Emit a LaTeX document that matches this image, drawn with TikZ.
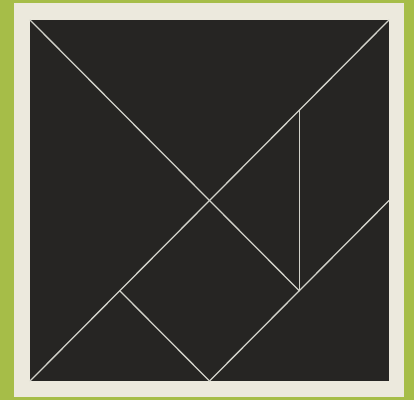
\documentclass[tikz,border=0pt]{standalone}
\usetikzlibrary{calc}
\definecolor{Moss}{RGB}{166,189,72}
\definecolor{Cream}{RGB}{236,233,221}
\definecolor{Board}{RGB}{38,37,35}
\definecolor{Cut}{RGB}{210,210,202}
\begin{document}
\begin{tikzpicture}[x=1pt, y=-1pt,
  cut/.style={draw=Cut, line width=1.3pt, line cap=round, line join=round}
]
% background, frame and board
\fill[Moss] (0,0) rectangle (414,400);
\fill[Cream] (14,3) rectangle (404,397);
\fill[Board] (30,20) rectangle (389,381);
% corners and cut points of the tangram
\coordinate (tl) at (30,20);
\coordinate (tr) at (389,20);
\coordinate (bl) at (30,381);
\coordinate (br) at (389,381);
\coordinate (mid) at ($(tl)!0.5!(br)$);
\coordinate (botmid) at ($(bl)!0.5!(br)$);
\coordinate (rightmid) at ($(tr)!0.5!(br)$);
\coordinate (lowq) at ($(bl)!0.25!(tr)$);
\coordinate (highq) at ($(tr)!0.25!(bl)$);
\coordinate (foot) at ($(mid)!0.5!(br)$);
% cuts
\draw[cut] (tr) -- (bl);
\draw[cut] (tl) -- (mid) -- (foot);
\draw[cut] (highq) -- (foot);
\draw[cut] (rightmid) -- (botmid);
\draw[cut] (lowq) -- (botmid);
\end{tikzpicture}
\end{document}
